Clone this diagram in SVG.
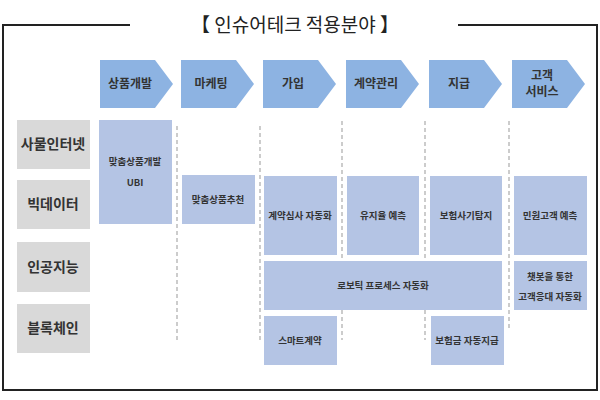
<svg xmlns="http://www.w3.org/2000/svg" width="600" height="400" viewBox="0 0 600 400">
<style>
text{font-family:"Noto Sans CJK KR","Noto Sans",sans-serif;text-anchor:middle;fill:#333}
.ch{fill:#8db3e2}
.ch+text,.h{font-size:12px;font-weight:bold}
.r{fill:#d9d9d9}
.rt{font-size:14px;font-weight:bold}
.b{fill:#b4c4e4}
.bt{font-size:9.5px;font-weight:bold}
.d{stroke:#999;stroke-dasharray:4 3;stroke-width:1}
</style>
<rect width="600" height="400" fill="#fff"/>
<path d="M130 25H3V390H597V25H458" fill="none" stroke="#222" stroke-width="2"/>
<text x="295" y="32" font-size="19" style="fill:#222">【 인슈어테크 적용분야 】</text>
<g id="connectors">
<line class="d" x1="177" y1="126" x2="177" y2="342"/>
<line class="d" x1="260" y1="126" x2="260" y2="342"/>
<line class="d" x1="342" y1="121" x2="342" y2="340"/>
<line class="d" x1="425" y1="121" x2="425" y2="340"/>
<line class="d" x1="509" y1="121" x2="509" y2="330"/>
</g>
<g id="s1"><path class="ch" d="M100 60H155L173 84L155 108H100Z"/><text class="h" x="130" y="88">상품개발</text></g>
<g id="s2"><path class="ch" d="M181 60H236L254 84L236 108H181Z"/><text class="h" x="211" y="88">마케팅</text></g>
<g id="s3"><path class="ch" d="M263 60H318L336 84L318 108H263Z"/><text class="h" x="293" y="88">가입</text></g>
<g id="s4"><path class="ch" d="M346 60H401L419 84L401 108H346Z"/><text class="h" x="376" y="88">계약관리</text></g>
<g id="s5"><path class="ch" d="M429 60H484L502 84L484 108H429Z"/><text class="h" x="459" y="88">지급</text></g>
<g id="s6"><path class="ch" d="M512 60H567L585 84L567 108H512Z"/><text class="h" x="542" y="80">고객</text><text class="h" x="542" y="96">서비스</text></g>
<g id="r1"><rect class="r" x="17" y="120" width="73" height="49"/><text class="rt" x="53" y="149">사물인터넷</text></g>
<g id="r2"><rect class="r" x="17" y="180" width="73" height="49"/><text class="rt" x="53" y="209">빅데이터</text></g>
<g id="r3"><rect class="r" x="17" y="242" width="73" height="50"/><text class="rt" x="53" y="272">인공지능</text></g>
<g id="r4"><rect class="r" x="17" y="304" width="73" height="49"/><text class="rt" x="53" y="333">블록체인</text></g>
<g id="b1"><rect class="b" x="99" y="120" width="73" height="104"/><text class="bt" x="135" y="165">맞춤상품개발</text><text class="bt" x="135" y="186">UBI</text></g>
<g id="b2"><rect class="b" x="182" y="175" width="73" height="49"/><text class="bt" x="218" y="203">맞춤상품추천</text></g>
<g id="b3"><rect class="b" x="264" y="176" width="73" height="79"/><text class="bt" x="300" y="219">계약심사 자동화</text></g>
<g id="b4"><rect class="b" x="347" y="176" width="72" height="79"/><text class="bt" x="383" y="219">유지율 예측</text></g>
<g id="b5"><rect class="b" x="430" y="176" width="72" height="79"/><text class="bt" x="466" y="219">보험사기탐지</text></g>
<g id="b6"><rect class="b" x="514" y="176" width="73" height="79"/><text class="bt" x="550" y="219">민원고객 예측</text></g>
<g id="b7"><rect class="b" x="264" y="261" width="238" height="49"/><text class="bt" x="383" y="289">로보틱 프로세스 자동화</text></g>
<g id="b8"><rect class="b" x="514" y="261" width="73" height="49"/><text class="bt" x="550" y="280">챗봇을 통한</text><text class="bt" x="550" y="300">고객응대 자동화</text></g>
<g id="b9"><rect class="b" x="264" y="316" width="73" height="49"/><text class="bt" x="300" y="344">스마트계약</text></g>
<g id="b10"><rect class="b" x="431" y="316" width="73" height="49"/><text class="bt" x="467" y="344">보험금 자동지급</text></g>
</svg>
